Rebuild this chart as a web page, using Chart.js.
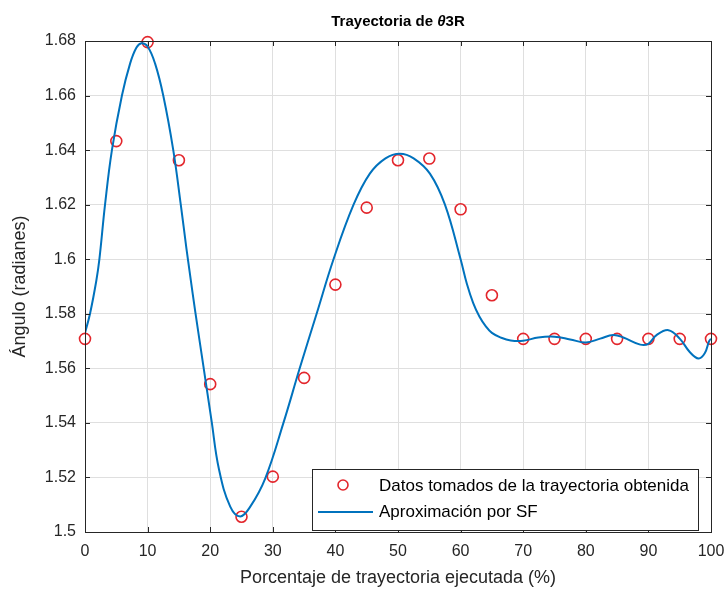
<!DOCTYPE html>
<html>
<head>
<meta charset="utf-8">
<script src="https://cdn.jsdelivr.net/npm/chart.js@4.4.1/dist/chart.umd.min.js"></script>
<style>
  html, body { margin: 0; padding: 0; background: #ffffff; }
  #wrap { width: 727px; height: 595px; }
</style>
</head>
<body>
<div id="wrap"><canvas id="c" width="727" height="595"></canvas></div>
<script>
// ---- data ----
const titleParts = ["Trayectoria de ", "\u03B8", "3R"];
const xAxisTitle = "Porcentaje de trayectoria ejecutada (%)";
const yAxisTitle = "\u00C1ngulo (radianes)";
const dataLabel = "Datos tomados de la trayectoria obtenida";
const curveLabel = "Aproximaci\u00F3n por SF";

const sampleX = [0, 5, 10, 15, 20, 25, 30, 35, 40, 45, 50, 55, 60, 65, 70, 75, 80, 85, 90, 95, 100];
const sampleY = [1.5708, 1.6433, 1.6796, 1.6363, 1.5542, 1.5056, 1.5203, 1.5565, 1.5907, 1.6189,
                 1.6363, 1.6369, 1.6183, 1.5868, 1.5708, 1.5708, 1.5708, 1.5708, 1.5708, 1.5708, 1.5708];

const curveX = [0, 0.8, 1.8, 2.3, 3.2, 4.3, 5.9, 7.2, 8.2, 9.0, 10.0, 11.2, 12.5, 14.1, 15.3, 16.2, 16.8,
                17.6, 18.9, 20.2, 21.4, 23.2, 24.8, 26.4, 28.8, 31.7, 34.3, 37.0, 39.7, 42.9, 45.5, 48.0,
                50.3, 52.5, 55.1, 57.5, 60.0, 61.0, 62.0, 63.0, 64.0, 65.0, 66.5, 68.0, 70.0, 72.4, 75.0,
                77.5, 80.0, 82.3, 84.4, 86.0, 88.7, 90.0, 91.3, 93.2, 95.0, 96.6, 98.0, 99.0, 99.7, 100];
const curveY = [1.573, 1.580, 1.592, 1.600, 1.620, 1.640, 1.660, 1.6717, 1.6775, 1.6792, 1.678, 1.6717,
                1.660, 1.640, 1.620, 1.604, 1.594, 1.581, 1.561, 1.541, 1.523, 1.5093, 1.5057, 1.5093,
                1.5197, 1.540, 1.560, 1.580, 1.600, 1.620, 1.6314, 1.637, 1.6387, 1.637, 1.6314, 1.620,
                1.600, 1.591, 1.584, 1.579, 1.5755, 1.573, 1.5712, 1.5702, 1.5701, 1.5713, 1.5716,
                1.5706, 1.5695, 1.5709, 1.5722, 1.5713, 1.5687, 1.569, 1.5722, 1.574, 1.5709, 1.566,
                1.5636, 1.5655, 1.570, 1.5708];

const yTicks = [1.5, 1.52, 1.54, 1.56, 1.58, 1.6, 1.62, 1.64, 1.66, 1.68];
const xTicks = [0, 10, 20, 30, 40, 50, 60, 70, 80, 90, 100];

// ---- styles ----
const FONT = "'Liberation Sans', Arial, Helvetica, sans-serif";
const AXIS_COLOR = '#262626';
const GRID_COLOR = '#dfdfdf';
const RED = '#e3262c';
const BLUE = '#0072BD';

const pointsData = sampleX.map((x, i) => ({ x: x, y: sampleY[i] }));
const curveData = curveX.map((x, i) => ({ x: x, y: curveY[i] }));

const framePlugin = {
  id: 'frame',
  afterDatasetsDraw(chart) {
    const ctx = chart.ctx;
    const a = chart.chartArea;
    const xs = chart.scales.x, ys = chart.scales.y;
    ctx.save();
    ctx.strokeStyle = AXIS_COLOR;
    ctx.lineWidth = 1;
    ctx.strokeRect(Math.round(a.left) + 0.5, Math.round(a.top) + 0.5,
                   Math.round(a.right - a.left), Math.round(a.bottom - a.top));
    const tl = 5;
    ctx.beginPath();
    xTicks.forEach(v => {
      const px = Math.round(xs.getPixelForValue(v)) + 0.5;
      ctx.moveTo(px, a.bottom); ctx.lineTo(px, a.bottom - tl);
      ctx.moveTo(px, a.top); ctx.lineTo(px, a.top + tl);
    });
    yTicks.forEach(v => {
      const py = Math.round(ys.getPixelForValue(v)) + 0.5;
      ctx.moveTo(a.left, py); ctx.lineTo(a.left + tl, py);
      ctx.moveTo(a.right, py); ctx.lineTo(a.right - tl, py);
    });
    ctx.stroke();

    // title (mixed bold / bold italic)
    const cx = (a.left + a.right) / 2;
    const fonts = ["bold 15px " + FONT, "italic bold 15px " + FONT, "bold 15px " + FONT];
    let widths = titleParts.map((t, i) => { ctx.font = fonts[i]; return ctx.measureText(t).width; });
    let total = widths.reduce((s, w) => s + w, 0);
    let x = cx - total / 2;
    ctx.fillStyle = '#000000';
    ctx.textBaseline = 'middle';
    ctx.textAlign = 'left';
    titleParts.forEach((t, i) => { ctx.font = fonts[i]; ctx.fillText(t, x, 22); x += widths[i]; });

    // legend box
    const lx = 312, ly = 469, lw = 386, lh = 61;
    ctx.fillStyle = '#ffffff';
    ctx.fillRect(lx, ly, lw, lh);
    ctx.strokeStyle = AXIS_COLOR;
    ctx.lineWidth = 1;
    ctx.strokeRect(lx + 0.5, ly + 0.5, lw, lh);
    ctx.strokeStyle = RED;
    ctx.lineWidth = 1.6;
    ctx.beginPath();
    ctx.arc(343, 485, 5, 0, Math.PI * 2);
    ctx.stroke();
    ctx.strokeStyle = BLUE;
    ctx.lineWidth = 2;
    ctx.beginPath();
    ctx.moveTo(318, 512); ctx.lineTo(373, 512);
    ctx.stroke();
    ctx.fillStyle = '#000000';
    ctx.font = "17px " + FONT;
    ctx.textBaseline = 'middle';
    ctx.fillText(dataLabel, 379, 486);
    ctx.fillText(curveLabel, 379, 512);
    ctx.restore();
  }
};

new Chart(document.getElementById('c'), {
  type: 'scatter',
  data: {
    datasets: [
      {
        label: curveLabel,
        data: curveData,
        showLine: true,
        borderColor: BLUE,
        borderWidth: 2,
        pointRadius: 0,
        tension: 0.4,
        fill: false,
        order: 0
      },
      {
        label: dataLabel,
        data: pointsData,
        showLine: false,
        pointStyle: 'circle',
        pointRadius: 5.5,
        pointBorderWidth: 1.6,
        pointBorderColor: RED,
        pointBackgroundColor: 'rgba(0,0,0,0)',
        borderColor: RED,
        backgroundColor: 'rgba(0,0,0,0)',
        clip: false,
        order: 1
      }
    ]
  },
  options: {
    responsive: false,
    animation: false,
    devicePixelRatio: 1,
    layout: { padding: { top: 41, right: 16, bottom: 0, left: 0 } },
    plugins: {
      legend: { display: false },
      title: { display: false },
      tooltip: { enabled: false }
    },
    scales: {
      x: {
        type: 'linear',
        min: 0, max: 100,
        afterFit(s) { s.height = 63; s.paddingLeft = 0; s.paddingRight = 0; },
        afterBuildTicks(s) { s.ticks = xTicks.map(v => ({ value: v })); },
        grid: { color: GRID_COLOR, drawTicks: false, lineWidth: 1 },
        border: { display: false },
        ticks: { padding: 10, color: AXIS_COLOR, font: { family: FONT, size: 16 }, maxRotation: 0 },
        title: { display: true, text: xAxisTitle, color: AXIS_COLOR,
                 font: { family: FONT, size: 18 }, padding: { top: 0, bottom: 6 } }
      },
      y: {
        type: 'linear',
        min: 1.5, max: 1.68,
        afterFit(s) { s.width = 85; s.paddingTop = 0; s.paddingBottom = 0; },
        afterBuildTicks(s) { s.ticks = yTicks.map(v => ({ value: v })); },
        grid: { color: GRID_COLOR, drawTicks: false, lineWidth: 1 },
        border: { display: false },
        ticks: { padding: 9, color: AXIS_COLOR, font: { family: FONT, size: 16 },
                 callback: v => String(+Number(v).toFixed(2)) },
        title: { display: true, text: yAxisTitle, color: AXIS_COLOR,
                 font: { family: FONT, size: 18 }, padding: { top: 9, bottom: 0 } }
      }
    }
  },
  plugins: [framePlugin]
});
</script>
</body>
</html>
